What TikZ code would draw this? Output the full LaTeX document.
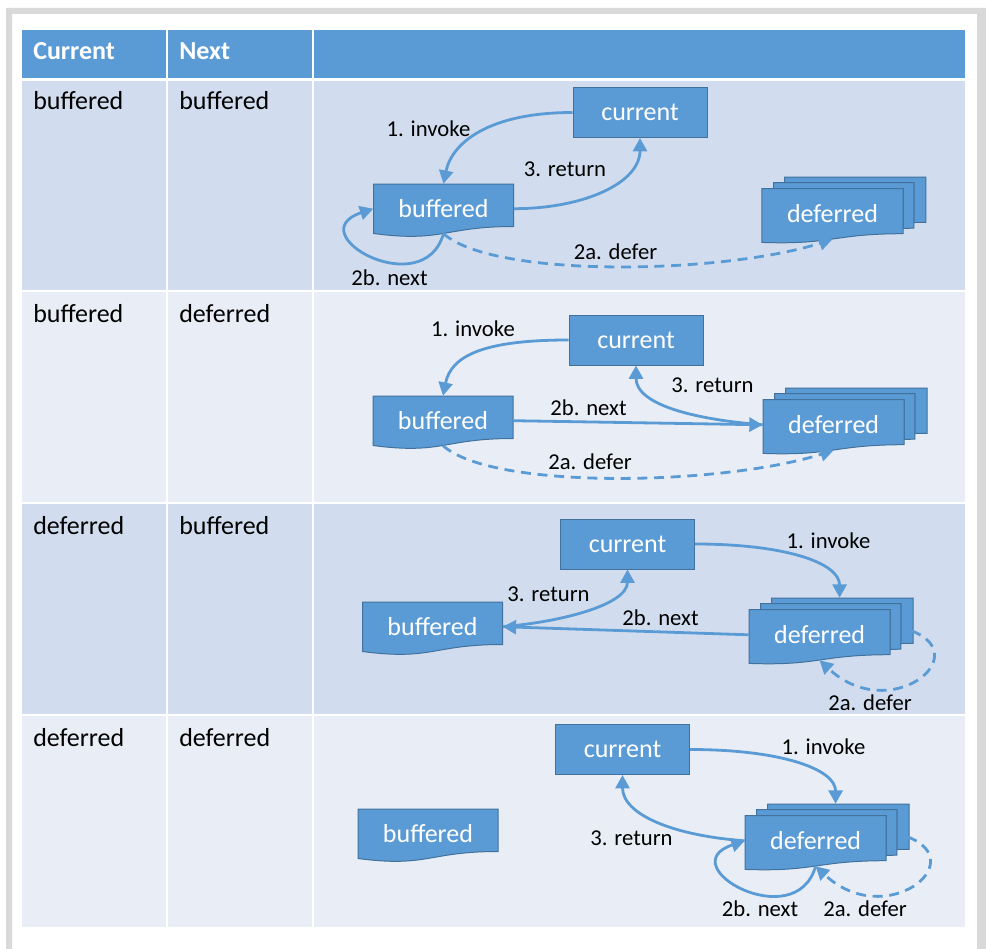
\documentclass[tikz,border=0pt]{standalone}
\usepackage{fontspec}
\setmainfont{Carlito}
\usepackage{tikz}
\usetikzlibrary{arrows.meta,calc}

\definecolor{headblue}{RGB}{91,155,213}
\definecolor{bandone}{RGB}{209,221,238}
\definecolor{bandtwo}{RGB}{233,238,246}
\definecolor{boxblue}{RGB}{91,155,213}
\definecolor{boxedge}{RGB}{65,113,156}
\definecolor{flowblue}{RGB}{91,155,213}
\definecolor{framegray}{RGB}{217,217,217}

\newcommand{\cellfont}{\fontsize{19.5}{23}\selectfont}
\newcommand{\lblfont}{\fontsize{17}{20}\selectfont}

\tikzset{
  boxfill/.style={fill=boxblue, draw=boxedge, line width=0.75pt},
  boxtext/.style={text=white, font=\cellfont, inner sep=0pt},
  curbox/.style={boxfill, boxtext, minimum width=100.5pt, minimum height=37.5pt},
  doctext/.style={boxtext, minimum width=105pt, minimum height=37pt},
  stacktext/.style={boxtext, minimum width=106pt, minimum height=37.8pt},
  celltext/.style={font=\cellfont, inner sep=0pt, anchor=base west},
  headtext/.style={celltext, text=white, font=\cellfont\bfseries},
  lbl/.style={font=\lblfont, inner sep=0pt},
  flow/.style={draw=flowblue, line width=2.1pt, -{Triangle[length=10pt,width=10.5pt]}},
  deferflow/.style={flow, dash pattern=on 7.5pt off 5pt},
  % pics are not flipped by yscale, so their y runs upwards
  docpage/.pic={
    \filldraw[boxfill] (-70,24.7) -- (70,24.7) -- (70,-17.8) .. controls (0,-17.8) and (0,-34) .. (-70,-24.8) -- cycle;
  },
  docstack/.pic={
    \filldraw[boxfill] (-48,31.1) -- (-48,36.8) -- (93.4,36.8) -- (93.4,-8.5) .. controls (87.3,-8.5) and (81.3,-8.75) .. (81.3,-8.75) -- (81.3,31.1) -- cycle;
    \filldraw[boxfill] (-59,25.2) -- (-59,31.1) -- (81.3,31.1) -- (81.3,-14.4) .. controls (75.9,-14.4) and (70.6,-14.7) .. (70.6,-14.7) -- (70.6,25.2) -- cycle;
    \filldraw[boxfill] (-70.6,25.2) -- (70.6,25.2) -- (70.6,-19.9) .. controls (0,-19.9) and (0,-31.2) .. (-70.6,-28.6) -- cycle;
  }
}

\begin{document}
\begin{tikzpicture}[x=0.75pt,y=0.75pt,yscale=-1,xscale=1]
\useasboundingbox (0,0) rectangle (986,949);

%Shape: Frame
\fill[framegray, even odd rule] (6,8) rectangle (986,949) (12,14) rectangle (977,949);

%Shape: Header cells
\fill[headblue] (22,30) rectangle (166,78);
\fill[headblue] (168,30) rectangle (312,78);
\fill[headblue] (314,30) rectangle (965,78);
%Shape: Row cells
\fill[bandone] (22,81) rectangle (166,290);
\fill[bandone] (168,81) rectangle (312,290);
\fill[bandone] (314,81) rectangle (965,290);
\fill[bandtwo] (22,292) rectangle (166,502);
\fill[bandtwo] (168,292) rectangle (312,502);
\fill[bandtwo] (314,292) rectangle (965,502);
\fill[bandone] (22,504) rectangle (166,714);
\fill[bandone] (168,504) rectangle (312,714);
\fill[bandone] (314,504) rectangle (965,714);
\fill[bandtwo] (22,716) rectangle (166,927);
\fill[bandtwo] (168,716) rectangle (312,927);
\fill[bandtwo] (314,716) rectangle (965,927);

% Text Node
\node[headtext] (hcur) at (33,60) {Current};
\node[headtext] (hnext) at (179,60) {Next};
\node[celltext] (c1) at (33,110) {buffered};
\node[celltext] (n1) at (179,110) {buffered};
\node[celltext] (c2) at (33,322) {buffered};
\node[celltext] (n2) at (179,322) {deferred};
\node[celltext] (c3) at (33,534) {deferred};
\node[celltext] (n3) at (179,534) {buffered};
\node[celltext] (c4) at (33,746) {deferred};
\node[celltext] (n4) at (179,746) {deferred};

%Row 1: buffered -> buffered
\node[curbox] (cur1) at (640,112.5) {current};
\pic at (443.5,208.7) {docpage};
\node[doctext] (buf1) at (443.5,208.7) {buffered};
\pic at (832.5,213.8) {docstack};
\node[stacktext] (def1) at (832.5,213.8) {deferred};
%Curve Lines
\draw[flow] (cur1.west) .. controls +(-85,0) and +(8,-40) .. (buf1.north);
\draw[flow] (buf1.east) .. controls +(70,0) and +(0,45) .. (cur1.south);
\draw[flow] (buf1.south) .. controls +(-20,70) and +(-75,25) .. (buf1.west);
\draw[deferflow] (buf1.south) .. controls +(50,45) and +(-110,35) .. (def1.south);
% Text Node
\node[lbl] (l1a) at (428.5,129) {1. invoke};
\node[lbl] (l1b) at (565,169) {3. return};
\node[lbl] (l1c) at (615.5,252) {2a. defer};
\node[lbl] (l1d) at (389.5,278) {2b. next};

%Row 2: buffered -> deferred
\node[curbox] (cur2) at (636,340) {current};
\pic at (443,420.7) {docpage};
\node[doctext] (buf2) at (443,420.7) {buffered};
\pic at (833.6,424.8) {docstack};
\node[stacktext] (def2) at (833.6,424.8) {deferred};
%Curve Lines
\draw[flow] (cur2.west) .. controls +(-85,0) and +(8,-40) .. (buf2.north);
\draw[flow] (buf2.east) -- (def2.west);
\draw[flow] (def2.west) .. controls +(-65,-5) and +(0,40) .. (cur2.south);
\draw[deferflow] (buf2.south) .. controls +(50,45) and +(-110,35) .. (def2.south);
% Text Node
\node[lbl] (l2a) at (473,329) {1. invoke};
\node[lbl] (l2b) at (712.5,385) {3. return};
\node[lbl] (l2c) at (588.5,408) {2b. next};
\node[lbl] (l2d) at (590,462) {2a. defer};

%Row 3: deferred -> buffered
\node[curbox] (cur3) at (627.5,544) {current};
\pic at (432.5,626.7) {docpage};
\node[doctext] (buf3) at (432.5,626.7) {buffered};
\pic at (819.6,634.8) {docstack};
\node[stacktext] (def3) at (819.6,634.8) {deferred};
%Curve Lines
\draw[flow] (cur3.east) .. controls +(90,0) and +(0,-35) .. ($(def3.north)+(20,-11.6)$);
\draw[flow] (def3.west) -- (buf3.east);
\draw[flow] (buf3.east) .. controls +(60,-5) and +(0,35) .. (cur3.south);
\draw[deferflow] ($(def3.east)+(21,-4)$) .. controls +(65,25) and +(70,65) .. (def3.south);
% Text Node
\node[lbl] (l3a) at (828.5,541) {1. invoke};
\node[lbl] (l3b) at (548.5,594) {3. return};
\node[lbl] (l3c) at (660.5,618) {2b. next};
\node[lbl] (l3d) at (870,703) {2a. defer};

%Row 4: deferred -> deferred
\node[curbox] (cur4) at (622.5,749.5) {current};
\pic at (428,833.7) {docpage};
\node[doctext] (buf4) at (428,833.7) {buffered};
\pic at (815.6,840.8) {docstack};
\node[stacktext] (def4) at (815.6,840.8) {deferred};
%Curve Lines
\draw[flow] (cur4.east) .. controls +(90,0) and +(0,-35) .. ($(def4.north)+(20,-11.6)$);
\draw[flow] (def4.west) .. controls +(-70,-5) and +(0,40) .. (cur4.south);
\draw[flow] (def4.south) .. controls +(-20,70) and +(-75,25) .. (def4.west);
\draw[deferflow] ($(def4.east)+(21,-4)$) .. controls +(65,25) and +(70,65) .. (def4.south);
% Text Node
\node[lbl] (l4a) at (823.5,747) {1. invoke};
\node[lbl] (l4b) at (631.5,838) {3. return};
\node[lbl] (l4c) at (760,909) {2b. next};
\node[lbl] (l4d) at (865,909) {2a. defer};
\end{tikzpicture}
\end{document}
